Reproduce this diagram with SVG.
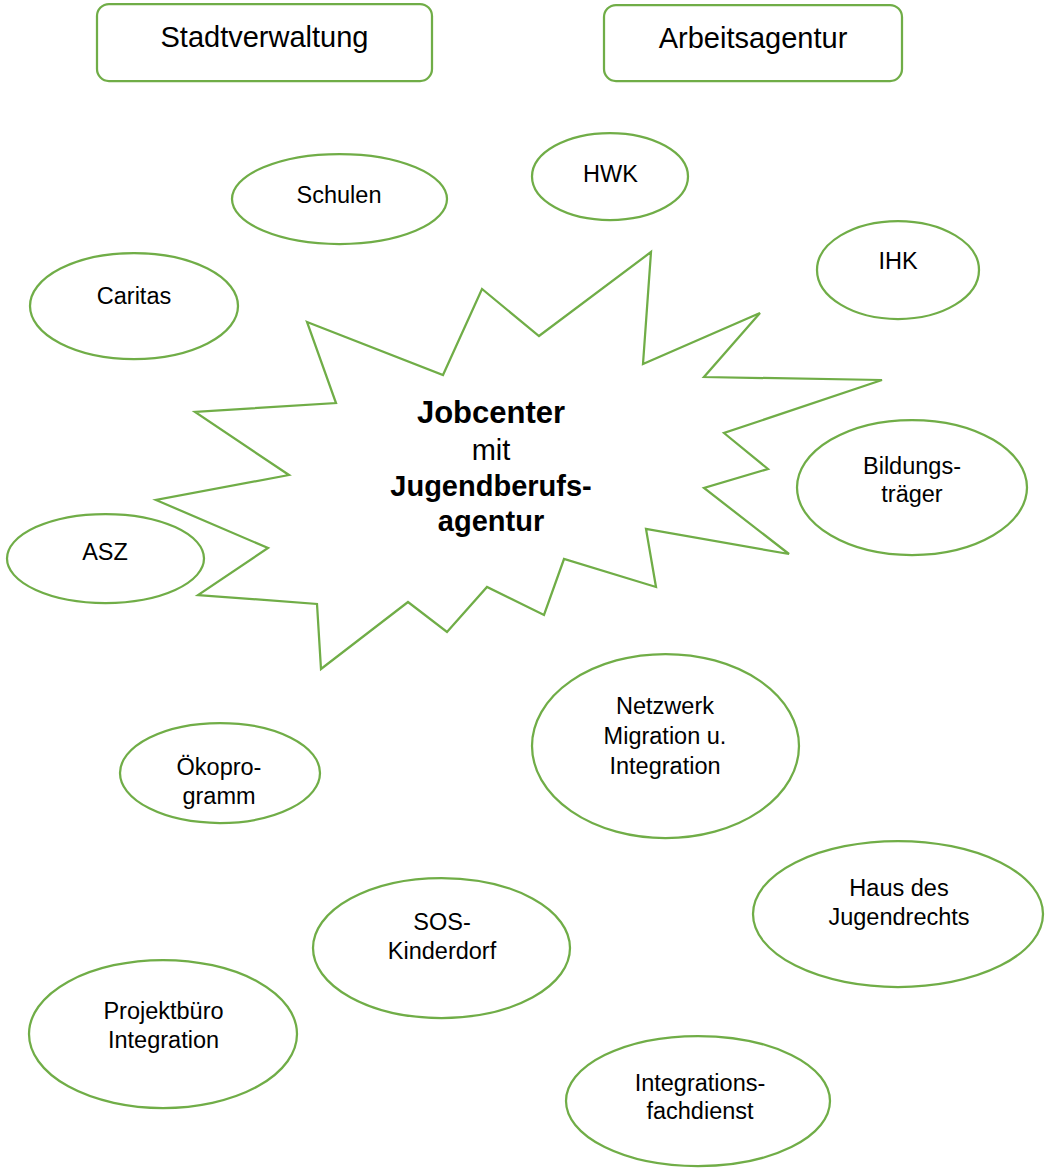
<svg xmlns="http://www.w3.org/2000/svg" width="1051" height="1171" viewBox="0 0 1051 1171">
<style>
.shape{fill:#ffffff;stroke:#70AD47;stroke-width:2.25}
text{font-family:"Liberation Sans",Arial,sans-serif;fill:#000000;text-anchor:middle}
.t{font-size:29px}
.e{font-size:23.5px}
.b{font-size:29px;font-weight:bold}
</style>
<rect width="1051" height="1171" fill="#ffffff"/>
<g id="connectors"></g>
<g id="stadtverwaltung">
<rect class="shape" x="97" y="4" width="335" height="77" rx="12"/>
<text class="t" x="264.5" y="47">Stadtverwaltung</text>
</g>
<g id="arbeitsagentur">
<rect class="shape" x="604" y="5" width="298" height="76" rx="12"/>
<text class="t" x="753" y="48">Arbeitsagentur</text>
</g>
<g id="jobcenter">
<polygon class="shape" points="307,322 443,375 482,289 539,336 651,252 643,364 760,313 704,377 882,380 724,433 768,469 704,488 789,554 646,529 656,587 564,559 544,615 487,587 447,632 408,602 321,669 317,604 198,595 268,548 156,500 289,475 195,412 336,403"/>
<text x="491" y="423" style="font-size:31px;font-weight:bold">Jobcenter</text>
<text class="t" x="491" y="460">mit</text>
<text class="b" x="491" y="496">Jugendberufs-</text>
<text class="b" x="491" y="531">agentur</text>
</g>
<g id="schulen">
<ellipse class="shape" cx="339.5" cy="199" rx="107.5" ry="45"/>
<text class="e" x="339" y="203">Schulen</text>
</g>
<g id="hwk">
<ellipse class="shape" cx="610" cy="176.5" rx="78" ry="43.5"/>
<text class="e" x="610.5" y="182">HWK</text>
</g>
<g id="caritas">
<ellipse class="shape" cx="134" cy="306" rx="104" ry="53"/>
<text class="e" x="134" y="304">Caritas</text>
</g>
<g id="ihk">
<ellipse class="shape" cx="898" cy="270" rx="81" ry="49"/>
<text class="e" x="898" y="269">IHK</text>
</g>
<g id="bildungstraeger">
<ellipse class="shape" cx="912" cy="487.5" rx="115" ry="67.5"/>
<text class="e" x="912" y="474">Bildungs-</text>
<text class="e" x="912" y="502">träger</text>
</g>
<g id="asz">
<ellipse class="shape" cx="105.5" cy="558.5" rx="98.5" ry="44.5"/>
<text class="e" x="105" y="560">ASZ</text>
</g>
<g id="netzwerk">
<ellipse class="shape" cx="665.5" cy="746" rx="133.5" ry="92"/>
<text class="e" x="665" y="714">Netzwerk</text>
<text class="e" x="665" y="744">Migration u.</text>
<text class="e" x="665" y="774">Integration</text>
</g>
<g id="oekoprogramm">
<ellipse class="shape" cx="220" cy="773" rx="100" ry="50"/>
<text class="e" x="219" y="775">Ökopro-</text>
<text class="e" x="219" y="804">gramm</text>
</g>
<g id="hausdesjugendrechts">
<ellipse class="shape" cx="898" cy="914" rx="145" ry="73"/>
<text class="e" x="899" y="896">Haus des</text>
<text class="e" x="899" y="925">Jugendrechts</text>
</g>
<g id="soskinderdorf">
<ellipse class="shape" cx="441.5" cy="948" rx="128.5" ry="70"/>
<text class="e" x="442" y="930">SOS-</text>
<text class="e" x="442" y="959">Kinderdorf</text>
</g>
<g id="projektbuero">
<ellipse class="shape" cx="163" cy="1034" rx="134" ry="74"/>
<text class="e" x="163.5" y="1019">Projektbüro</text>
<text class="e" x="163.5" y="1048">Integration</text>
</g>
<g id="integrationsfachdienst">
<ellipse class="shape" cx="698" cy="1101" rx="132" ry="65"/>
<text class="e" x="700" y="1091">Integrations-</text>
<text class="e" x="700" y="1119">fachdienst</text>
</g>
</svg>
